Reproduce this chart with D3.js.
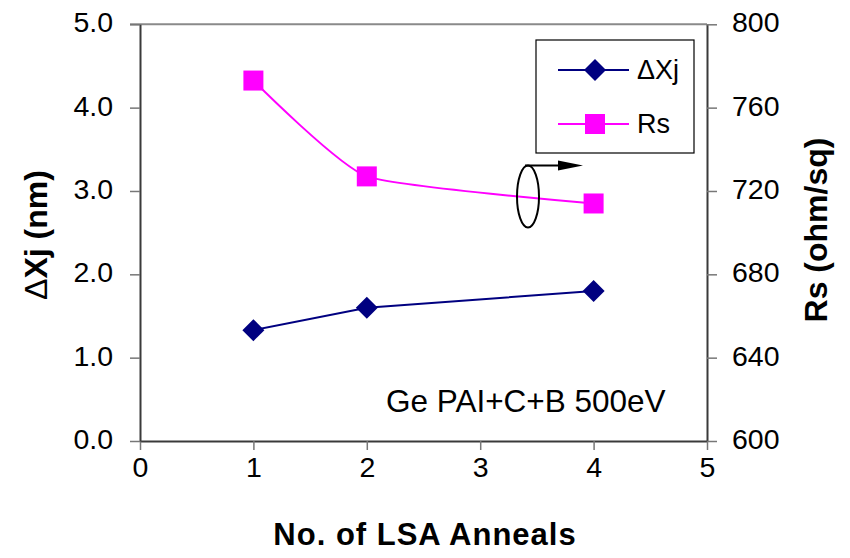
<!DOCTYPE html>
<html>
<head>
<meta charset="utf-8">
<script src="https://cdn.jsdelivr.net/npm/d3@7"></script>
<style>
  html, body { margin: 0; padding: 0; background: #fff; }
  svg { display: block; font-family: "Liberation Sans", Arial, sans-serif; }
</style>
</head>
<body>
<svg id="chart" width="850" height="558"></svg>
<script>
// Number of laser spike anneals
const anneals = [1, 2, 4];
// Junction depth shift (nm), left axis
const deltaXj = [1.33, 1.60, 1.80];
// Sheet resistance (ohm/sq), right axis
const sheetRs = [773, 727, 714];

const xTicks = [0, 1, 2, 3, 4, 5];
const leftTicks = [0, 1, 2, 3, 4, 5];
const rightTicks = [600, 640, 680, 720, 760, 800];

const W = 850, H = 558;
const m = { left: 140, right: 143, top: 24.3, bottom: 117 };
const svg = d3.select("#chart");

const x = d3.scaleLinear().domain([0, 5]).range([m.left, W - m.right]);
const yL = d3.scaleLinear().domain([0, 5]).range([H - m.bottom, m.top]);
const yR = d3.scaleLinear().domain([600, 800]).range([H - m.bottom, m.top]);

const axisColor = "#3a3a3a";
const tickColor = "#777";

// top border of the plot area
svg.append("line")
  .attr("x1", x(0) - 10).attr("x2", x(5))
  .attr("y1", yL(5)).attr("y2", yL(5))
  .attr("stroke", "#8a8a8a").attr("stroke-width", 2);

function styleAxis(g) {
  g.select(".domain").attr("stroke", axisColor).attr("stroke-width", 2);
  g.selectAll(".tick line").attr("stroke", tickColor).attr("stroke-width", 1.5);
  g.selectAll(".tick text").attr("fill", "#000").attr("font-size", 28.5)
    .attr("font-family", "Liberation Sans, Arial, sans-serif");
}

const gx = svg.append("g")
  .attr("transform", `translate(0,${yL(0)})`)
  .call(d3.axisBottom(x).tickValues(xTicks).tickFormat(d3.format("d"))
    .tickSizeInner(9).tickSizeOuter(0).tickPadding(27))
  .call(styleAxis);
gx.selectAll(".tick text").attr("dy", "0");

const gl = svg.append("g")
  .attr("transform", `translate(${x(0)},0)`)
  .call(d3.axisLeft(yL).tickValues(leftTicks).tickFormat(d3.format(".1f"))
    .tickSizeInner(10).tickSizeOuter(0).tickPadding(17))
  .call(styleAxis);
gl.selectAll(".tick text").attr("dy", "0.26em");

const gr = svg.append("g")
  .attr("transform", `translate(${x(5)},0)`)
  .call(d3.axisRight(yR).tickValues(rightTicks).tickFormat(d3.format("d"))
    .tickSizeInner(10).tickSizeOuter(0).tickPadding(15))
  .call(styleAxis);
gr.selectAll(".tick text").attr("dy", "0.26em");

// series
const navy = "#000080", magenta = "#ff00ff";
const diamond = "M0,-11L11,0L0,11L-11,0Z";

const rsPts = anneals.map((a, i) => [x(a), yR(sheetRs[i])]);
svg.append("path")
  .attr("d", d3.line().curve(d3.curveCardinal.tension(0.5))(rsPts))
  .attr("fill", "none").attr("stroke", magenta).attr("stroke-width", 2);
svg.selectAll(".rs").data(rsPts).join("rect")
  .attr("x", d => d[0] - 10).attr("y", d => d[1] - 10)
  .attr("width", 20).attr("height", 20).attr("fill", magenta);

const xjPts = anneals.map((a, i) => [x(a), yL(deltaXj[i])]);
svg.append("path")
  .attr("d", d3.line()(xjPts))
  .attr("fill", "none").attr("stroke", navy).attr("stroke-width", 2);
svg.selectAll(".xj").data(xjPts).join("path")
  .attr("d", diamond).attr("transform", d => `translate(${d[0]},${d[1]})`)
  .attr("fill", navy);

// legend
const lg = svg.append("g");
lg.append("rect").attr("x", 536).attr("y", 40).attr("width", 158).attr("height", 113)
  .attr("fill", "#fff").attr("stroke", "#000").attr("stroke-width", 1.2);
lg.append("line").attr("x1", 558).attr("x2", 629).attr("y1", 70).attr("y2", 70)
  .attr("stroke", navy).attr("stroke-width", 2);
lg.append("path").attr("d", diamond).attr("transform", "translate(595,70)").attr("fill", navy);
lg.append("text").attr("x", 637).attr("y", 79).attr("font-size", 27).text("ΔXj");
lg.append("line").attr("x1", 558).attr("x2", 629).attr("y1", 124).attr("y2", 124)
  .attr("stroke", magenta).attr("stroke-width", 2);
lg.append("rect").attr("x", 585).attr("y", 114).attr("width", 20).attr("height", 20).attr("fill", magenta);
lg.append("text").attr("x", 637).attr("y", 133).attr("font-size", 27).text("Rs");

// ellipse with arrow pointing to the right axis
svg.append("ellipse").attr("cx", 528).attr("cy", 196.5).attr("rx", 11).attr("ry", 31)
  .attr("fill", "none").attr("stroke", "#000").attr("stroke-width", 2);
svg.append("line").attr("x1", 525).attr("x2", 560).attr("y1", 165.5).attr("y2", 165.5)
  .attr("stroke", "#000").attr("stroke-width", 2);
svg.append("path").attr("d", "M558,160.5L583,165.5L558,170.5Z").attr("fill", "#000");

// annotation
svg.append("text").attr("x", 386).attr("y", 412).attr("font-size", 31.5)
  .text("Ge PAI+C+B 500eV");

// axis titles
svg.append("text").attr("x", 425).attr("y", 545).attr("text-anchor", "middle")
  .attr("font-size", 31).attr("font-weight", "bold").attr("letter-spacing", 1)
  .text("No. of LSA Anneals");

const lt = svg.append("text").attr("transform", "translate(47,235) rotate(-90)")
  .attr("text-anchor", "middle").attr("font-size", 32).attr("font-weight", "bold");
lt.append("tspan").attr("font-weight", "normal").text("Δ");
lt.append("tspan").text("Xj (nm)");

svg.append("text").attr("transform", "translate(827,230) rotate(-90)")
  .attr("text-anchor", "middle").attr("font-size", 32).attr("font-weight", "bold")
  .text("Rs (ohm/sq)");
</script>
</body>
</html>
